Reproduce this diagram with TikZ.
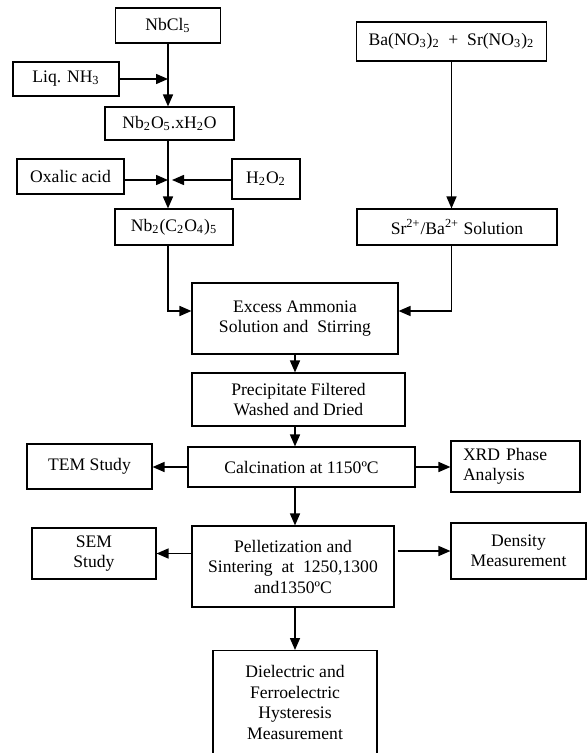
\documentclass[tikz,border=0pt]{standalone}
\usepackage{fontspec}
\setmainfont{Liberation Serif}
\usetikzlibrary{arrows.meta,positioning}

\begin{document}
\begin{tikzpicture}[
      x=0.5pt, y=-0.5pt,
      every node/.style={font=\fontsize{8.8}{10.25}\selectfont},
      box/.style={draw, line width=0.55pt, rectangle, align=center, inner sep=0pt},
      arrow/.style={-{Triangle[length=6pt, width=5pt]}, line width=0.75pt},
    ]
    \useasboundingbox (0,0) rectangle (587,753);

    % ---- Niobium branch ----
    \node[box, minimum width=52.5pt, minimum height=17.5pt] (nbcl) at (168,25.5) {NbCl\textsubscript{5}};
    \node[box, minimum width=53pt, minimum height=17pt] (nh3) at (66,79) {Liq. NH\textsubscript{3}};
    \node[box, minimum width=64.5pt, minimum height=16.5pt] (nbo) at (169.5,123.5) {Nb\textsubscript{2}O\textsubscript{5}.xH\textsubscript{2}O};
    \node[box, minimum width=53.5pt, minimum height=17.5pt] (oxa) at (70.5,176.5) {Oxalic acid};
    \node[box, minimum width=34pt, minimum height=20pt] (h2o2) at (266,179) {H\textsubscript{2}O\textsubscript{2}};
    \node[box, minimum width=59pt, minimum height=18pt] (nbox) at (174,227) {Nb\textsubscript{2}(C\textsubscript{2}O\textsubscript{4})\textsubscript{5}};

    % ---- Ba/Sr branch ----
    \node[box, minimum width=95pt, minimum height=19.5pt] (ba) at (451.5,41.5) {Ba(NO\textsubscript{3})\textsubscript{2} \ + \ Sr(NO\textsubscript{3})\textsubscript{2}};
    \node[box, minimum width=100pt, minimum height=18pt] (sr) at (457,227) {Sr\textsuperscript{2+}/Ba\textsuperscript{2+} Solution};

    % ---- main column ----
    \node[box, minimum width=103pt, minimum height=35.5pt] (excess) at (295,318.5) {Excess Ammonia\\Solution and \ Stirring};
    \node[box, minimum width=106.5pt, minimum height=26.5pt] (precip) at (298.5,399.5) {Precipitate Filtered\\Washed and Dried};
    \node[box, minimum width=113.5pt, minimum height=20pt] (calc) at (301.5,467) {Calcination at 1150ºC};
    \node[box, minimum width=101pt, minimum height=40.5pt] (pel) at (293,566.5) {Pelletization and\\Sintering \ at \ 1250,1300\\and1350ºC};
    \node[box, anchor=north, minimum width=82pt, inner ysep=7.5pt, text depth=10pt] (diel) at (295,650) {Dielectric and\\Ferroelectric\\Hysteresis\\Measurement};

    % ---- side boxes ----
    \node[box, minimum width=62.5pt, minimum height=22.5pt] (tem) at (89.5,466.5) {TEM Study};
    \node[box, minimum height=25.5pt, align=left, text width=52.5pt, inner xsep=6pt] (xrd) at (515.5,466.5) {XRD Phase\\Analysis};
    \node[box, minimum width=62pt, minimum height=25.5pt] (sem) at (94,553.5) {SEM\\Study};
    \node[box, minimum width=67.5pt, minimum height=28pt] (dens) at (518.5,551) {Density\\Measurement};

    % niobium arrows
    \coordinate (mix) at (168,180);
    \draw[arrow] (nbcl.south) -- (nbcl.south |- nbo.north);
    \draw[arrow] (nh3.east) -- (nh3.east -| nbcl.south);
    \draw[arrow] (nbo.south -| nbcl) -- (nbox.north -| nbcl);
    \draw[arrow] (oxa.east |- mix) -- (mix);
    \draw[arrow] (h2o2.west |- mix) -- ([xshift=2pt]mix);

    % ba/sr arrow
    \draw[arrow] (ba.south) -- (ba.south |- sr.north);

    % joining into excess ammonia
    \coordinate (join) at (295,311);
    \draw[arrow] (nbox.south -| nbcl) |- (excess.west |- join);
    \draw[arrow] (sr.south -| ba) |- (excess.east |- join);

    % main column arrows
    \draw[arrow] (excess.south) -- (excess.south |- precip.north);
    \draw[arrow] (precip.south -| excess) -- (calc.north -| excess);
    \draw[arrow] (calc.south -| excess) -- (pel.north -| excess);
    \draw[arrow] (pel.south -| excess) -- (diel.north -| excess);

    % side arrows
    \draw[arrow] (calc.west) -- (calc.west -| tem.east);
    \draw[arrow] (calc.east) -- (calc.east -| xrd.west);
    \draw[arrow] (pel.west |- sem) -- (sem.east);
    \draw[arrow] ([xshift=1.5pt]pel.east |- dens.west) -- (dens.west);
  \end{tikzpicture}
\end{document}
